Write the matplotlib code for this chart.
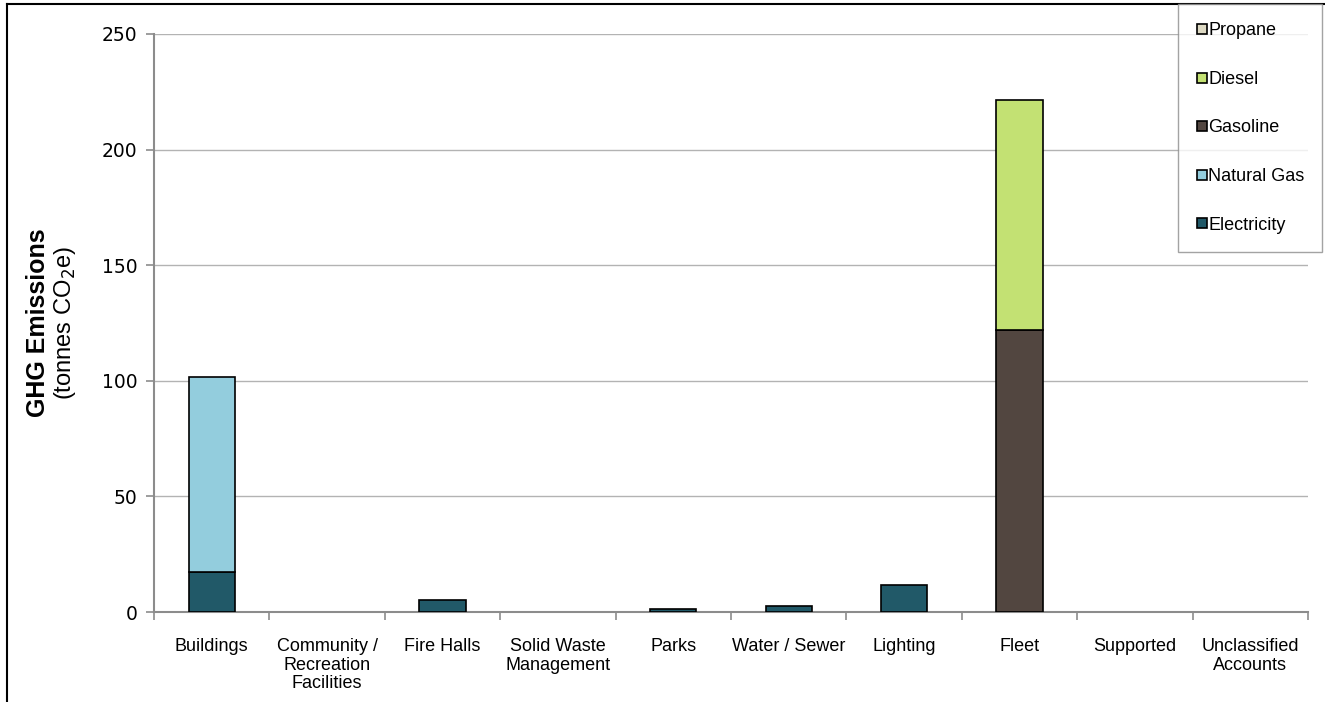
import numpy as np
import matplotlib.pyplot as plt
from matplotlib.lines import Line2D

plt.rcParams['font.family'] = ['Liberation Sans', 'DejaVu Sans']

# categories along the x axis
categories = ["Buildings", "Community /\nRecreation\nFacilities", "Fire Halls",
              "Solid Waste\nManagement", "Parks", "Water / Sewer", "Lighting",
              "Fleet", "Supported", "Unclassified\nAccounts"]

# emissions by source (tonnes CO2e)
electricity = [17.3, 0, 5.2, 0, 1.3, 2.6, 11.7, 0, 0, 0]
natural_gas = [84.3, 0, 0, 0, 0, 0, 0, 0, 0, 0]
gasoline    = [0, 0, 0, 0, 0, 0, 0, 122.0, 0, 0]
diesel      = [0, 0, 0, 0, 0, 0, 0, 99.5, 0, 0]
propane     = [0, 0, 0, 0, 0, 0, 0, 0, 0, 0]

series = [("Electricity", electricity, "#215968"),
          ("Natural Gas", natural_gas, "#93CDDD"),
          ("Gasoline", gasoline, "#524640"),
          ("Diesel", diesel, "#C3E173"),
          ("Propane", propane, "#DDD9C3")]

fig = plt.figure(figsize=(13.25, 7.02), dpi=100)
ax = fig.add_axes([0.1162, 0.1282, 0.8710, 0.8234])

x = np.arange(len(categories))
bottom = np.zeros(len(categories))
handles = []
for name, vals, col in series:
    vals = np.array(vals, dtype=float)
    m = vals > 0
    if m.any():
        ax.bar(x[m], vals[m], width=0.4, bottom=bottom[m], color=col,
               edgecolor="black", linewidth=1.2, zorder=3)
    bottom += vals
    handles.append(Line2D([], [], marker="s", linestyle="none", markersize=7,
                          markerfacecolor=col, markeredgecolor="black",
                          markeredgewidth=1.2, label=name))

ax.set_xlim(-0.5, len(categories) - 0.5)
ax.set_ylim(0, 250)
ax.set_yticks([0, 50, 100, 150, 200, 250])
ax.yaxis.grid(True, color="#B3B3B3", linewidth=1)
ax.set_axisbelow(True)

ax.set_xticks(x)
ax.set_xticklabels(categories, fontsize=13, linespacing=1.1)
ax.tick_params(axis="x", which="major", length=0, pad=19)
ax.set_xticks(np.arange(-0.5, len(categories)), minor=True)
ax.tick_params(axis="x", which="minor", length=6, color="#8C8C8C", width=1.2)
ax.tick_params(axis="y", length=6, color="#8C8C8C", width=1.2, pad=6)
for lab in ax.get_yticklabels():
    lab.set_family("DejaVu Sans")
    lab.set_fontsize(13.5)

for s in ["top", "right"]:
    ax.spines[s].set_visible(False)
for s in ["left", "bottom"]:
    ax.spines[s].set_color("#8C8C8C")
    ax.spines[s].set_linewidth(1.5)

ax.text(-0.1005, 0.5, "GHG Emissions", transform=ax.transAxes, rotation=90,
        ha="center", va="center", fontsize=18, fontweight="bold")
ax.text(-0.077, 0.5, "(tonnes CO$_2$e)", transform=ax.transAxes, rotation=90,
        ha="center", va="center", fontsize=17)

leg = fig.legend(handles=handles[::-1], loc="upper right",
                 bbox_to_anchor=(0.998, 0.994), fontsize=13, frameon=True,
                 fancybox=False, labelspacing=1.75, handlelength=0.6,
                 handletextpad=0.05, borderpad=1.0, borderaxespad=0)
leg.get_frame().set_edgecolor("#8C8C8C")
leg.get_frame().set_linewidth(1)

# outer chart frame
fig.add_artist(Line2D([7 / 1325, 7 / 1325], [0, 1 - 4 / 702], color="black",
                      linewidth=1.5, transform=fig.transFigure))
fig.add_artist(Line2D([7 / 1325, 1], [1 - 4 / 702, 1 - 4 / 702], color="black",
                      linewidth=1.5, transform=fig.transFigure))

fig.savefig("out.png", dpi=100)
